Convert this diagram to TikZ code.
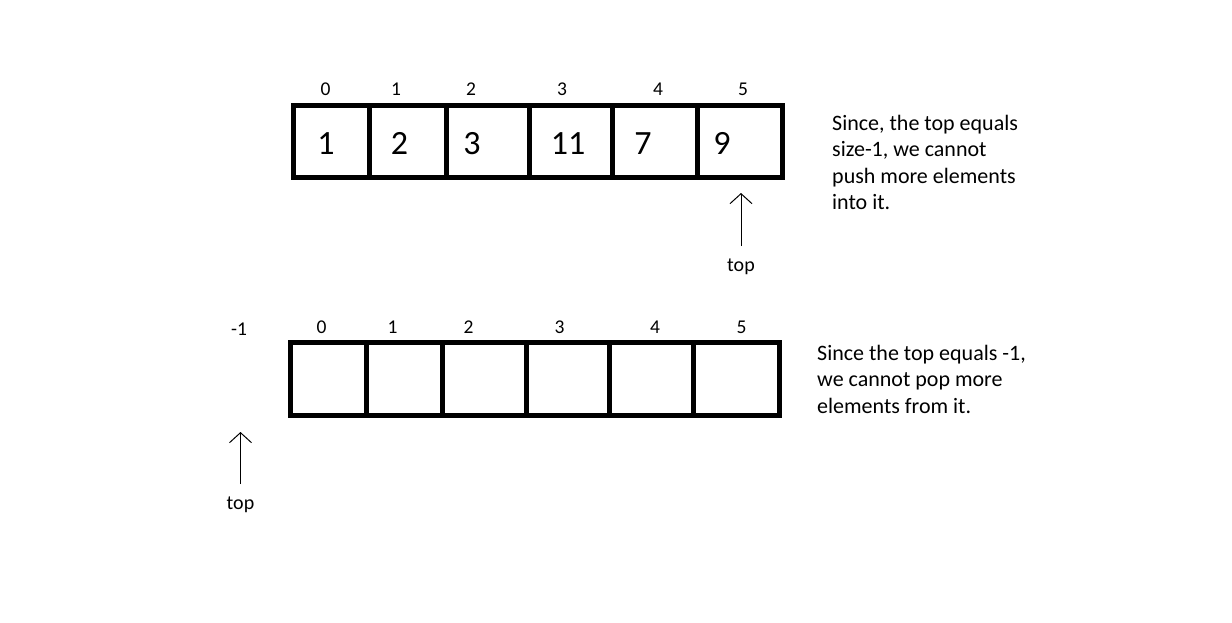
\documentclass[tikz,border=0pt]{standalone}
\usepackage{fontspec}
\setmainfont{Carlito}
\usetikzlibrary{arrows.meta}

\begin{document}
\begin{tikzpicture}[x=1pt,y=-1pt,
  cell/.style={draw, line width=5pt, inner sep=0pt, minimum height=72.5pt},
  val/.style={font=\fontsize{34}{38}\selectfont, inner sep=0pt, anchor=base},
  idx/.style={font=\fontsize{19.5}{23}\selectfont, inner sep=0pt, anchor=base},
  note/.style={font=\fontsize{22}{26.5}\selectfont, align=left, inner sep=0pt, anchor=north west},
  toplbl/.style={font=\fontsize{20}{24}\selectfont, inner sep=0pt, anchor=base},
  ptr/.style={-{Straight Barb[length=10pt,width=22pt]}, line width=1pt, shorten <=12pt}]
\useasboundingbox (0,0) rectangle (1232,623);

% full stack
\node [cell, minimum width=75.2pt] (a0) at (331.4,141.4) {};
\node [cell, minimum width=77pt]   (a1) at (407.5,141.4) {};
\node [cell, minimum width=83pt]   (a2) at (487.5,141.4) {};
\node [cell, minimum width=83.5pt] (a3) at (570.75,141.4) {};
\node [cell, minimum width=84.5pt] (a4) at (654.75,141.4) {};
\node [cell, minimum width=85.5pt] (a5) at (739.75,141.4) {};

\node [val] (v0) at (326,154) {1};
\node [val] (v1) at (399.5,154) {2};
\node [val] (v2) at (472,154) {3};
\node [val] (v3) at (568,154) {11};
\node [val] (v4) at (643,154) {7};
\node [val] (v5) at (722,154) {9};

\node [idx] (ia0) at (325.5,96) {0};
\node [idx] (ia1) at (396,96) {1};
\node [idx] (ia2) at (471,96) {2};
\node [idx] (ia3) at (562,96) {3};
\node [idx] (ia4) at (658,96) {4};
\node [idx] (ia5) at (743,96) {5};

\coordinate (tipA) at (741,193);
\node [toplbl] (topA) at (741,271) {top};
\draw [ptr] (topA) -- (tipA);

\node [note] (noteA) at (832,115)
      {Since, the top equals\\size-1, we cannot\\push more elements\\into it.};

% empty stack
\node [cell, minimum width=75.4pt] (b0) at (328.5,379.15) {};
\node [cell, minimum width=76.5pt] (b1) at (404.45,379.15) {};
\node [cell, minimum width=83.3pt] (b2) at (484.35,379.15) {};
\node [cell, minimum width=83.3pt] (b3) at (567.65,379.15) {};
\node [cell, minimum width=84pt]   (b4) at (651.3,379.15) {};
\node [cell, minimum width=85.7pt] (b5) at (736.15,379.15) {};

\node [idx] (ib0) at (321.5,333.5) {0};
\node [idx] (ib1) at (392.5,333.5) {1};
\node [idx] (ib2) at (468.5,333.5) {2};
\node [idx] (ib3) at (559.5,333.5) {3};
\node [idx] (ib4) at (655,333.5) {4};
\node [idx] (ib5) at (741.5,333.5) {5};
\node [idx] (ibm) at (239,335.5) {-1};

\coordinate (tipB) at (240.5,432);
\node [toplbl] (topB) at (240.5,509) {top};
\draw [ptr] (topB) -- (tipB);

\node [note] (noteB) at (817,345)
      {Since the top equals -1,\\we cannot pop more\\elements from it.};
\end{tikzpicture}
\end{document}
